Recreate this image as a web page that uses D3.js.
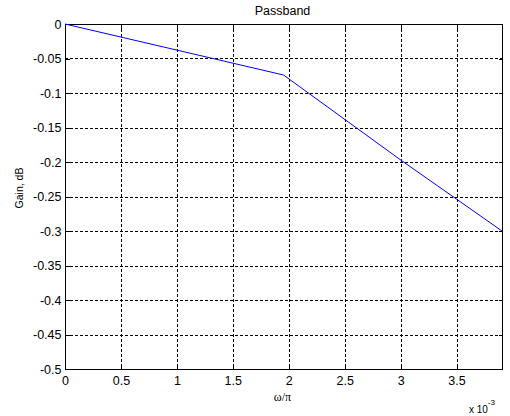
<!DOCTYPE html>
<html>
<head>
<meta charset="utf-8">
<script src="https://cdn.jsdelivr.net/npm/d3@7"></script>
<style>
  html, body { margin: 0; padding: 0; background: #fff; }
  svg { display: block; }
  text { font-family: "Liberation Sans", Arial, sans-serif; fill: #000; }
</style>
</head>
<body>
<svg id="chart" width="510" height="416"></svg>
<script>
// Normalised frequency (omega/pi) of each sample and passband gain in dB
const omegaOverPi = [0, 0.001953125, 0.0030, 0.00390625];
const gainDb      = [0, -0.0739, -0.197, -0.300];

// Axis ticks
const xTicks = [0, 0.0005, 0.001, 0.0015, 0.002, 0.0025, 0.003, 0.0035];
const xTickLabels = ["0", "0.5", "1", "1.5", "2", "2.5", "3", "3.5"];
const yTicks = [0, -0.05, -0.1, -0.15, -0.2, -0.25, -0.3, -0.35, -0.4, -0.45, -0.5];
const yTickLabels = ["0", "-0.05", "-0.1", "-0.15", "-0.2", "-0.25", "-0.3", "-0.35", "-0.4", "-0.45", "-0.5"];

const svg = d3.select("#chart");
const plotLeft = 65, plotRight = 502, plotTop = 24, plotBottom = 369;

const x = d3.scaleLinear().domain([0, 0.00390625]).range([plotLeft, plotRight]);
const y = d3.scaleLinear().domain([-0.5, 0]).range([plotBottom, plotTop]);

const grid = svg.append("g").attr("shape-rendering", "crispEdges");

// dashed grid at interior ticks
grid.selectAll("line.vg").data(xTicks.filter(d => d > 0)).enter().append("line")
  .attr("x1", d => Math.round(x(d)) + 0.5).attr("x2", d => Math.round(x(d)) + 0.5)
  .attr("y1", plotTop).attr("y2", plotBottom)
  .attr("stroke", "#000").attr("stroke-width", 1).attr("stroke-dasharray", "3,2");
grid.selectAll("line.hg").data(yTicks.filter(d => d < 0 && d > -0.5)).enter().append("line")
  .attr("y1", d => Math.round(y(d)) + 0.5).attr("y2", d => Math.round(y(d)) + 0.5)
  .attr("x1", plotLeft).attr("x2", plotRight)
  .attr("stroke", "#000").attr("stroke-width", 1).attr("stroke-dasharray", "3,2");

// axes with inward ticks, tick labels only on bottom and left
const tickLen = 4;
const xAxis = d3.axisBottom(x).tickValues(xTicks).tickSize(-tickLen).tickPadding(7)
  .tickFormat((d, i) => xTickLabels[i]);
const yAxis = d3.axisLeft(y).tickValues(yTicks).tickSize(-tickLen).tickPadding(4)
  .tickFormat((d, i) => yTickLabels[i]);
const xAxisTop = d3.axisTop(x).tickValues(xTicks).tickSize(-tickLen).tickFormat("");
const yAxisRight = d3.axisRight(y).tickValues(yTicks).tickSize(-tickLen).tickFormat("");

function styleAxis(g) {
  g.select(".domain").remove();
  g.selectAll(".tick line").attr("stroke", "#000").attr("shape-rendering", "crispEdges");
  g.selectAll(".tick text").attr("font-size", "12.5px")
    .attr("font-family", "'Liberation Sans', Arial, sans-serif").attr("fill", "#000");
}

svg.append("g").attr("transform", `translate(0,${plotBottom + 0.5})`).call(xAxis).call(styleAxis);
svg.append("g").attr("transform", `translate(0,${plotTop + 0.5})`).call(xAxisTop).call(styleAxis);
svg.append("g").attr("transform", `translate(${plotLeft + 0.5},0)`).call(yAxis).call(styleAxis);
svg.append("g").attr("transform", `translate(${plotRight + 0.5},0)`).call(yAxisRight).call(styleAxis);

// frame
svg.append("rect")
  .attr("x", plotLeft + 0.5).attr("y", plotTop + 0.5)
  .attr("width", plotRight - plotLeft).attr("height", plotBottom - plotTop)
  .attr("fill", "none").attr("stroke", "#000").attr("stroke-width", 1)
  .attr("shape-rendering", "crispEdges");

// gain curve
const pts = omegaOverPi.map((w, i) => [w, gainDb[i]]);
svg.append("path")
  .datum(pts)
  .attr("d", d3.line().x(d => x(d[0])).y(d => y(d[1])))
  .attr("fill", "none").attr("stroke", "#0000ff").attr("stroke-width", 1);

// title and labels
svg.append("text").attr("x", (plotLeft + plotRight) / 2 - 1).attr("y", 15)
  .attr("text-anchor", "middle").attr("font-size", "12.5px").text("Passband");

svg.append("text").attr("x", (plotLeft + plotRight) / 2 - 1).attr("y", 401)
  .attr("text-anchor", "middle").attr("font-size", "12px")
  .style("font-family", "'Liberation Serif', 'Times New Roman', serif")
  .text("ω/π");

svg.append("text")
  .attr("transform", "translate(22.5,188) rotate(-90)")
  .attr("text-anchor", "middle").attr("font-size", "10.5px").text("Gain, dB");

const mult = svg.append("text").attr("x", 469).attr("y", 413).attr("font-size", "10px");
mult.append("tspan").text("x 10");
mult.append("tspan").attr("dy", -8).attr("font-size", "8px").text("-3");
</script>
</body>
</html>
